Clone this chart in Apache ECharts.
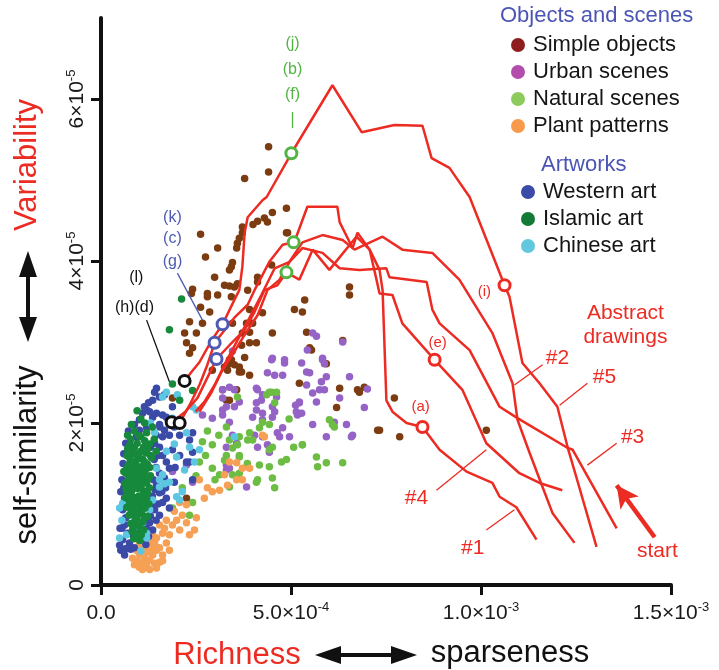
<!DOCTYPE html>
<html>
<head>
<meta charset="utf-8">
<script src="https://cdn.jsdelivr.net/npm/echarts@6/dist/echarts.min.js"></script>
<style>html,body{margin:0;padding:0;background:#fff}#c{width:719px;height:670px}</style>
</head>
<body>
<div id="c"></div>
<script>
// Values in display units: x in 1e-4, y in 1e-5
const X_TICKS = [[0, '0.0', ''], [5, '5.0×10', '-4'], [10, '1.0×10', '-3'], [15, '1.5×10', '-3']];
const Y_TICKS = [[0, '0', ''], [2, '2×10', '-5'], [4, '4×10', '-5'], [6, '6×10', '-5']];

const legendObjects = ['Simple objects', 'Urban scenes', 'Natural scenes', 'Plant patterns'];
const legendArtworks = ['Western art', 'Islamic art', 'Chinese art'];

const simpleObjects = [[4.41,5.41],[4.41,5.10],[3.78,5.02],[4.88,4.65],[4.51,4.60],[4.30,4.53],[4.12,4.49],[4.38,4.48],[3.72,4.42],[3.72,4.35],[3.64,4.28],[3.59,4.22],[3.57,4.16],[2.62,4.33],[3.07,4.16],[3.46,3.98],[3.43,3.93],[3.38,3.89],[2.99,3.80],[3.25,3.70],[3.38,3.69],[3.51,3.68],[3.59,3.72],[3.86,3.64],[4.49,3.95],[4.88,4.35],[2.80,3.60],[2.41,3.65],[2.38,3.60],[4.12,3.80],[4.12,3.74],
[2.80,3.56],[3.07,3.58],[3.43,3.56],[2.62,3.43],[2.86,3.37],[2.33,3.25],[2.67,3.23],[2.51,3.11],[2.20,3.11],[2.25,2.99],[2.41,2.93],[2.33,2.86],[3.25,2.69],[3.33,2.65],[3.38,2.78],[3.64,2.69],[3.78,2.81],[3.91,2.99],[3.72,3.11],[3.46,3.23],[3.83,3.23],[3.91,3.40],[4.25,3.36],[4.51,3.11],[3.57,2.41],[3.20,2.41],[3.38,2.28],[3.64,2.63],[2.93,2.65],[1.88,2.31],
[3.99,3.23],[3.91,3.12],[4.09,2.99],[3.70,2.96],[5.36,3.52],[5.30,3.37],[5.09,3.40],[5.41,3.12],[6.36,3.02],[5.54,2.90],[6.54,3.58],[5.93,2.73],[3.43,2.78],[3.51,2.72],[3.33,2.72],[3.70,2.63],[3.91,2.59],[5.22,2.49],[6.75,2.41],[7.72,2.31],[6.20,2.19],[7.28,1.91],[7.86,1.83],[3.30,2.28],
[2.25,1.07],[6.28,2.43],[6.80,2.38],[5.49,2.93],[10.14,1.91],[7.33,1.91],[6.93,2.44],[6.54,3.68],[4.91,4.35],[2.75,4.05],[4.00,4.45]];

const urbanScenes = [[5.67,3.07],[5.43,2.90],[3.46,2.89],[4.49,2.78],[4.83,2.78],[4.83,2.74],[5.28,2.74],[5.83,2.78],[5.88,2.73],[4.38,2.62],[4.57,2.59],[5.49,2.62],[5.93,2.57],[5.80,2.51],[5.41,2.47],[6.54,2.57],[7.01,2.42],[5.75,2.41],[5.88,2.41],[5.57,2.37],[5.67,2.26],[5.22,2.25],[5.12,2.22],[5.28,2.12],[5.17,2.10],[4.51,2.20],[4.62,2.32],[4.25,2.35],[4.12,2.41],[4.22,2.28],[4.09,2.25],[4.09,2.16],[4.25,2.12],[4.51,2.07],[4.57,2.14],[3.99,2.07],[4.25,2.04],[4.78,1.94],[4.64,1.88],[4.70,1.83],[4.96,1.83],[4.25,1.83],[4.12,1.70],[4.43,1.64],[4.38,1.73],[3.57,1.75],[3.30,1.70],[3.20,2.41],[3.38,2.44],[3.51,2.41],[3.20,2.31],[3.30,2.20],[3.51,2.20],[3.64,2.26],[3.20,2.16],[3.20,2.10],[3.38,2.01],[6.93,2.19],[6.46,1.98],[6.14,2.01],[5.93,1.83],[6.59,1.83],[3.83,1.21],[3.30,1.42],[3.30,1.48],
[4.09,2.43],[4.51,2.80],[4.78,2.59],[5.41,2.63],[5.83,2.80],[5.22,2.26],[5.14,2.14],[4.04,1.85],[3.46,1.85],[2.93,2.06],[2.67,2.10],[2.25,1.48],[1.88,1.40],[2.41,1.27],[3.38,1.44],[6.62,1.85],[5.57,1.98],[6.28,2.31],[6.36,3.00],[5.57,3.11]];

const naturalScenes = [[4.49,2.38],[4.57,2.25],[6.01,2.04],[6.14,1.95],[5.30,1.73],[5.67,1.58],[5.93,1.51],[6.36,1.51],[5.70,1.46],[4.75,1.52],[4.43,1.46],[4.17,1.48],[4.51,1.70],[4.43,1.67],[3.99,1.79],[3.86,1.79],[3.64,1.60],[4.17,1.94],[4.43,1.98],[3.30,1.95],[3.38,1.79],[3.25,1.54],[3.64,1.58],[4.12,1.30],[3.64,1.38],[3.38,1.21],[4.57,1.20],
[5.30,1.73],[6.09,1.98],[4.51,1.32],[4.09,1.27],[3.46,1.69],[3.59,1.73],[2.93,1.73],[2.67,1.77],[2.59,1.52],[2.41,1.02],[1.88,0.95],[2.14,1.20],[2.33,0.86],[2.93,1.44],[3.30,1.60],[3.12,1.36],[3.46,1.36],[4.25,2.01],[4.62,2.38],[4.36,2.35],[3.64,1.83],[3.91,1.88],[3.59,2.32],[4.43,2.38],[5.07,1.70],[4.88,1.55],[2.80,1.90],[3.00,1.30],[2.75,1.60],[3.85,1.50],[2.50,1.35],[3.10,1.85],[4.95,2.05]];

const plantPatterns = [[0.88,0.25],[0.95,0.30],[1.01,0.22],[1.09,0.28],[1.14,0.33],[1.20,0.25],[1.28,0.31],[1.36,0.37],[1.41,0.27],[1.46,0.43],[1.28,0.43],[1.20,0.40],[1.09,0.46],[1.01,0.38],[0.93,0.43],[1.14,0.52],[1.28,0.55],[1.36,0.49],[1.46,0.58],[1.54,0.46],[1.62,0.37],[1.54,0.28],[1.72,0.52],[1.80,0.62],[1.62,0.64],[1.36,0.62],[1.20,0.59],[1.01,0.52],[1.88,0.74],[2.07,0.68],[1.99,0.80],[1.72,0.80],[1.54,0.74],[2.14,0.86],[2.25,0.77],[2.33,0.62],[2.46,0.68],[2.59,1.30],[2.93,1.15],[2.72,1.07],[3.38,1.52],[3.72,1.44],[3.57,1.30],[3.12,1.17],[4.25,1.85],[2.25,0.99],[2.07,1.02],[1.93,0.91],[1.67,0.70],[1.80,0.43],[1.09,0.19],[1.28,0.19],[0.83,0.33],[1.46,0.21],[1.62,0.30],[1.14,0.43],[1.41,0.52],[2.51,0.83],[2.80,1.20],[3.25,1.36],[4.30,1.83],[3.57,1.51],[3.91,1.44],[3.72,1.30],[3.33,1.23]];

const westernArt = [[1.46,2.43],[1.41,2.38],[1.67,2.35],[1.54,2.32],[1.36,2.28],[1.09,2.12],[1.20,2.16],[1.28,2.14],[1.46,2.12],[1.62,2.10],[1.72,2.07],[1.01,2.04],[1.36,2.07],[1.80,2.01],[1.14,2.20],
[0.88,1.98],[1.01,1.91],[1.20,1.94],[1.54,1.98],[1.67,1.91],[1.80,1.85],[1.93,1.95],[0.93,1.83],[1.62,1.83],[2.41,1.88],[2.33,1.79],
[0.75,1.75],[0.83,1.64],[0.88,1.52],[1.41,1.75],[1.54,1.70],[1.62,1.60],[1.72,1.52],[1.80,1.44],[1.54,1.38],[1.67,1.32],[0.70,1.46],[0.80,1.36],[1.88,1.67],[2.33,1.52],[2.07,1.60],[2.41,1.30],[1.93,1.27],
[0.67,1.27],[0.75,1.17],[0.62,1.07],[0.70,0.99],[0.80,0.90],[1.46,1.23],[1.54,1.14],[1.62,1.02],[1.41,0.93],[1.54,0.86],[1.72,1.07],[1.80,0.95],[0.57,0.93],[0.65,0.83],
[0.62,0.74],[0.70,0.64],[0.57,0.56],[0.49,0.49],[0.75,0.52],[0.83,0.62],[1.20,0.70],[1.28,0.77],[1.36,0.68],[0.62,0.37],[0.52,0.43],[0.88,0.46],[1.09,0.58],[1.01,0.70],
[1.88,2.20],[2.07,1.85],[1.62,1.32],[2.25,1.52],[2.41,1.64],[1.40,1.55],[1.45,1.85],[1.35,1.10],[1.45,0.80],[0.60,1.20],[0.55,0.70],[1.70,1.20],[1.30,1.70],[1.95,1.45],
[0.58,1.50],[0.60,1.62],[0.65,1.75],[0.72,1.90],[1.45,1.45],[1.50,1.60],[1.38,1.30],[1.42,1.18],[1.35,0.98],[1.30,0.85],[1.25,0.60],[0.55,1.30],[0.52,1.15],[0.50,0.70],[1.55,1.95],[1.25,2.25],[1.60,1.15],[1.50,1.00],[0.66,0.45],[0.78,0.44],[1.18,0.50]];

const islamicArt = [[0.70,1.85],[0.88,1.90],[1.05,1.83],[1.20,1.88],[0.75,1.72],[0.95,1.75],[1.12,1.70],[1.28,1.74],[0.68,1.60],[0.85,1.62],[1.00,1.58],[1.18,1.63],[1.33,1.57],[0.72,1.48],[0.90,1.50],[1.05,1.46],[1.22,1.49],[0.65,1.38],[0.82,1.40],[0.98,1.36],[1.15,1.39],[1.30,1.35],[0.70,1.28],[0.88,1.25],[1.03,1.29],[1.20,1.26],[0.66,1.18],[0.80,1.15],[0.96,1.19],[1.12,1.16],[1.27,1.20],[0.72,1.06],[0.88,1.08],[1.04,1.04],[1.20,1.07],[0.68,0.96],[0.84,0.94],[1.00,0.98],[1.16,0.95],[0.74,0.86],[0.90,0.84],[1.06,0.88],[1.22,0.85],[0.78,0.76],[0.94,0.74],[1.10,0.78],[0.82,0.66],[0.98,0.64],[1.12,0.68],[0.86,0.57],[1.02,0.55],[0.93,1.62],[0.78,1.52],[1.10,1.55],[0.83,1.32],[1.10,1.32],[0.76,1.10],[1.14,1.12],[0.92,1.00],[1.08,0.92],[0.80,1.98],[1.05,2.05],[0.95,2.15],[1.15,2.00],[1.35,1.95],[1.40,1.80],[1.45,1.65],[0.60,1.40],[0.62,1.25],
[0.78,1.80],[0.98,1.85],[1.15,1.78],[0.70,1.68],[0.88,1.70],[1.05,1.65],[1.22,1.68],[0.76,1.56],[0.95,1.55],[1.15,1.52],[1.28,1.45],[0.68,1.44],[0.86,1.45],[1.00,1.42],[1.18,1.43],[0.74,1.33],[0.92,1.30],[1.08,1.34],[1.24,1.31],[0.72,1.22],[0.90,1.20],[1.06,1.23],[1.22,1.14],[0.70,1.12],[0.86,1.02],[1.00,1.10],[1.12,1.00],[0.76,1.00],[0.80,0.90],[0.96,0.90],[1.14,0.82],[0.88,0.78],[1.02,0.72],[0.84,0.70],[0.92,0.60],[1.06,0.62],[0.94,0.82],[1.26,1.00],[0.64,1.08],[1.30,1.60],
[2.12,3.53],[1.80,3.15],[1.88,2.48],[2.41,2.40],[2.07,2.28]];

const chineseArt = [[1.41,1.88],[2.33,1.70],[2.59,1.67],[1.54,1.30],[1.67,1.25],[1.99,1.09],[2.07,1.05],[1.28,0.93],[0.93,0.68],[1.20,0.64],[0.57,1.01],[1.72,2.38],[2.01,2.35],[2.41,2.20],[2.51,2.16],[1.62,2.32],[1.88,2.06],[1.46,1.44],[1.62,1.36],[1.80,1.27],[1.54,1.21],[2.14,1.15],[0.49,0.95],[0.49,0.58],[1.20,0.58],[3.51,1.83],[2.20,1.42],[1.99,1.58],[1.72,1.65],[0.67,0.62],[1.09,0.77],[1.36,1.05],[2.46,1.52],[2.25,1.88],[1.93,1.74],[1.30,2.00],[0.55,0.80],[1.05,0.42]];

// Abstract drawing trajectories (#1..#5)
const drawing1 = [[11.46,0.56],[10.93,0.96],[10.49,1.09],[10.30,1.26],[9.62,1.40],[8.91,1.67],[8.46,1.95],[8.04,2.00],[7.67,2.14],[7.51,2.28],[7.41,3.64],[7.33,3.89],[7.07,4.14],[6.75,4.35],[6.62,4.16],[6.28,4.48],[6.22,4.67],[5.43,4.67],[5.14,4.30],[5.07,4.23],[4.78,4.20],[4.43,3.99],[4.04,3.64],[3.86,3.46],[3.51,3.30],[2.99,2.99],[2.80,2.72],[2.59,2.47],[2.33,2.22],[2.07,2.00]];
const drawing2 = [[12.46,0.52],[11.88,0.89],[11.62,1.21],[11.28,1.63],[10.96,2.04],[10.83,2.49],[10.30,3.11],[9.43,3.77],[8.72,4.10],[7.93,4.14],[7.41,4.30],[6.67,4.14],[6.36,4.26],[5.83,4.32],[5.30,4.23],[4.96,3.99],[4.57,3.91],[4.22,3.58],[3.91,3.30],[3.59,3.02],[3.25,2.72],[2.99,2.47],[2.72,2.26],[2.49,2.14]];
const drawing3 = [[13.57,0.70],[12.41,1.67],[12.25,1.70],[10.96,2.06],[10.49,2.20],[9.70,2.90],[8.91,3.23],[8.72,3.40],[8.57,3.74],[7.59,3.80],[7.51,3.91],[6.80,3.89],[6.28,3.91],[5.83,4.10],[5.30,4.16],[4.96,3.99],[4.70,3.77],[4.38,3.64],[4.12,3.33],[3.78,3.09],[3.51,2.88],[3.17,2.63],[2.91,2.38],[2.59,2.14]];
const drawing4 = [[12.14,1.17],[11.54,1.26],[11.01,1.38],[10.14,1.75],[9.51,2.41],[8.78,2.78],[7.93,3.23],[7.67,3.58],[7.33,3.60],[7.25,3.77],[7.07,4.14],[6.72,4.30],[6.01,3.89],[5.57,4.14],[5.22,3.77],[4.88,3.86],[4.64,3.70],[4.30,3.64],[4.04,3.37],[3.78,3.15],[3.38,2.96],[3.04,2.79],[2.80,2.56],[2.54,2.31],[2.22,2.14],[1.86,2.01]];
const drawing5 = [[13.04,0.47],[12.51,1.33],[12.28,1.70],[12.01,2.20],[11.54,2.49],[11.09,2.74],[10.75,3.56],[10.62,3.70],[9.70,4.79],[9.17,5.15],[8.70,5.27],[8.46,5.67],[7.72,5.68],[6.86,5.59],[6.09,6.17],[5.01,5.33],[4.36,4.79],[4.25,4.75],[3.86,4.54],[3.78,4.35],[3.72,3.93],[3.64,3.64],[3.51,3.52],[3.20,3.22],[2.91,3.02],[2.59,2.75],[2.38,2.63],[2.20,2.52]];

// Marked frames on the trajectories
const markedRed = [[8.46,1.95],[8.78,2.78],[10.62,3.70]];        // (a),(e),(i)
const markedGreen = [[5.01,5.33],[5.07,4.23],[4.88,3.86]];       // (j),(b),(f)
const markedBlue = [[3.20,3.22],[2.99,2.99],[3.04,2.79]];        // (k),(c),(g)
const markedBlack = [[2.20,2.52],[1.86,2.01],[2.07,2.00]];       // (l),(h),(d)

const RED = '#ec2b23', GREEN_A = '#52b543', BLUE_A = '#4e5ab3', BLACK = '#111';
const FONT = "'Liberation Sans', Arial, sans-serif";

// annotation texts (anchor in data units)
const annotations = [
  ['(j)', [5.04,6.69], GREEN_A, 16], ['(b)', [5.04,6.36], GREEN_A, 16], ['(f)', [5.04,6.05], GREEN_A, 16],
  ['(k)', [1.88,4.54], BLUE_A, 16], ['(c)', [1.88,4.28], BLUE_A, 16], ['(g)', [1.88,3.99], BLUE_A, 16],
  ['(l)', [0.93,3.80], BLACK, 16], ['(h)(d)', [0.88,3.42], BLACK, 16],
  ['(a)', [8.41,2.20], RED, 15], ['(e)', [8.86,2.99], RED, 15], ['(i)', [10.09,3.62], RED, 15],
  ['#1', [9.78,0.46], RED, 21], ['#2', [12.01,2.80], RED, 21], ['#3', [13.99,1.83], RED, 21],
  ['#4', [8.30,1.07], RED, 21], ['#5', [13.25,2.57], RED, 21],
  ['Abstract\ndrawings', [13.80,3.21], RED, 21], ['start', [14.64,0.42], RED, 21]
];
const leaders = [
  [[5.04,5.84],[5.04,5.64], GREEN_A], [[2.01,3.85],[2.67,3.27], BLUE_A], [[1.20,3.27],[1.80,2.51], BLACK],
  [[10.14,0.68],[10.88,0.93], RED], [[8.83,1.17],[10.14,1.67], RED], [[11.62,2.72],[10.88,2.47], RED],
  [[12.80,2.49],[12.07,2.22], RED], [[13.57,1.75],[12.80,1.48], RED]
];
const startArrow = [[14.57,0.59],[13.57,1.23]];

function tickFmt(list) {
  return function (v) {
    const t = list.find(d => Math.abs(d[0] - v) < 1e-9);
    if (!t) return '';
    return t[2] ? '{n|' + t[1] + '}{s|' + t[2] + '}' : '{n|' + t[1] + '}';
  };
}
const richTick = { n: { fontSize: 21, color: '#1a1a1a', fontFamily: FONT, lineHeight: 24 },
                   s: { fontSize: 13, color: '#1a1a1a', fontFamily: FONT, verticalAlign: 'top', lineHeight: 14 } };

function scatter(name, data, color) {
  return { name, type: 'scatter', data, symbolSize: 7.5, itemStyle: { color, opacity: 1 }, z: 2, silent: true };
}
function drawing(name, data) {
  return { name, type: 'line', data, symbol: 'none', lineStyle: { color: RED, width: 2.5 }, z: 4, silent: true };
}
function marks(name, data, color) {
  return { name, type: 'scatter', data, symbol: 'circle', symbolSize: 11,
           itemStyle: { color: '#fff', borderColor: color, borderWidth: 3, opacity: 1 }, z: 6, silent: true };
}

const chart = echarts.init(document.getElementById('c'), null, { renderer: 'canvas' });
chart.setOption({
  animation: false,
  backgroundColor: '#fff',
  textStyle: { fontFamily: FONT },
  grid: { left: 101, right: 48, top: 18, bottom: 85 },
  xAxis: {
    type: 'value', min: 0, max: 15, interval: 5,
    axisLine: { lineStyle: { color: '#111', width: 4 } },
    axisTick: { show: true, length: 10, lineStyle: { color: '#111', width: 3 }, customValues: X_TICKS.map(d => d[0]) },
    axisLabel: { margin: 16, formatter: tickFmt(X_TICKS), rich: richTick, customValues: X_TICKS.map(d => d[0]) },
    splitLine: { show: false }
  },
  yAxis: {
    type: 'value', min: 0, max: 7, interval: 2,
    axisLine: { show: true, lineStyle: { color: '#111', width: 4 } },
    axisTick: { show: true, length: 10, lineStyle: { color: '#111', width: 3 }, customValues: Y_TICKS.map(d => d[0]) },
    axisLabel: { margin: 12, rotate: 90, formatter: tickFmt(Y_TICKS), rich: richTick, customValues: Y_TICKS.map(d => d[0]) },
    splitLine: { show: false }
  },
  legend: [
    { data: [
        { name: legendObjects[0], itemStyle: { color: '#8e1e1e' } },
        { name: legendObjects[1], itemStyle: { color: '#b34dab' } },
        { name: legendObjects[2], itemStyle: { color: '#8dcc5c' } },
        { name: legendObjects[3], itemStyle: { color: '#f79a4b' } }],
      left: 511, top: 34, padding: 0, orient: 'vertical', icon: 'circle', itemWidth: 20, itemHeight: 14, itemGap: 5,
      selectedMode: false, textStyle: { fontSize: 22, color: '#151515', lineHeight: 20, fontFamily: FONT } },
    { data: [
        { name: legendArtworks[0], itemStyle: { color: '#3d4ba8' } },
        { name: legendArtworks[1], itemStyle: { color: '#137a36' } },
        { name: legendArtworks[2], itemStyle: { color: '#62c8df' } }],
      left: 521, top: 181, padding: 0, orient: 'vertical', icon: 'circle', itemWidth: 20, itemHeight: 14, itemGap: 5,
      selectedMode: false, textStyle: { fontSize: 22, color: '#151515', lineHeight: 20, fontFamily: FONT } }
  ],
  graphic: [
    { type: 'text', left: 500, top: 5, style: { text: 'Objects and scenes', fontSize: 22, fill: '#4b55b5', fontFamily: FONT } },
    { type: 'text', left: 541, top: 154, style: { text: 'Artworks', fontSize: 22, fill: '#4b55b5', fontFamily: FONT } },
    { type: 'text', x: 27, y: 165, rotation: Math.PI / 2,
      style: { text: 'Variability', fontSize: 31, fill: RED, fontFamily: FONT, align: 'center', verticalAlign: 'middle' } },
    { type: 'text', x: 27, y: 455, rotation: Math.PI / 2,
      style: { text: 'self-similarity', fontSize: 31, fill: '#111', fontFamily: FONT, align: 'center', verticalAlign: 'middle' } },
    { type: 'line', shape: { x1: 28, y1: 272, x2: 28, y2: 322 }, style: { stroke: '#111', lineWidth: 4 } },
    { type: 'polygon', shape: { points: [[28, 251], [19, 277], [37, 277]] }, style: { fill: '#111' } },
    { type: 'polygon', shape: { points: [[28, 342], [19, 317], [37, 317]] }, style: { fill: '#111' } },
    { type: 'text', x: 237, y: 655,
      style: { text: 'Richness', fontSize: 31, fill: RED, fontFamily: FONT, align: 'center', verticalAlign: 'middle' } },
    { type: 'text', x: 510, y: 653,
      style: { text: 'sparseness', fontSize: 31, fill: '#111', fontFamily: FONT, align: 'center', verticalAlign: 'middle' } },
    { type: 'line', shape: { x1: 335, y1: 655, x2: 397, y2: 655 }, style: { stroke: '#111', lineWidth: 4 } },
    { type: 'polygon', shape: { points: [[315, 655], [341, 646], [341, 664]] }, style: { fill: '#111' } },
    { type: 'polygon', shape: { points: [[417, 655], [391, 646], [391, 664]] }, style: { fill: '#111' } }
  ],
  series: [
    scatter('Simple objects', simpleObjects, '#7c3c12'),
    scatter('Urban scenes', urbanScenes, '#9563c6'),
    scatter('Natural scenes', naturalScenes, '#6dbd45'),
    scatter('Plant patterns', plantPatterns, '#f6a055'),
    scatter('Western art', westernArt, '#3c4aa7'),
    scatter('Chinese art', chineseArt, '#5dc7e2'),
    scatter('Islamic art', islamicArt, '#17893c'),
    drawing('#1', drawing1), drawing('#2', drawing2), drawing('#3', drawing3),
    drawing('#4', drawing4), drawing('#5', drawing5),
    marks('red marks', markedRed, RED),
    marks('green marks', markedGreen, GREEN_A),
    marks('blue marks', markedBlue, BLUE_A),
    marks('black marks', markedBlack, BLACK),
    {
      name: 'annotations', type: 'scatter', symbolSize: 0, z: 7, silent: true,
      itemStyle: { opacity: 1 },
      data: annotations.map(a => ({ value: a[1], name: a[0],
        label: { show: true, position: 'inside', formatter: '{b}', color: a[2], fontSize: a[3], opacity: 1,
                 fontFamily: FONT, lineHeight: a[3] + 3 } })),
      markLine: {
        silent: true, symbol: 'none', label: { show: false }, animation: false,
        data: leaders.map(l => [{ coord: l[0], lineStyle: { color: l[2], width: 1.3, type: 'solid', opacity: 1 } }, { coord: l[1] }])
          .concat([[{ coord: startArrow[0], symbol: 'none', lineStyle: { color: RED, width: 4.5, type: 'solid', opacity: 1 } },
                    { coord: startArrow[1], symbol: 'arrow', symbolSize: [17, 22] }]])
      }
    }
  ]
});
</script>
</body>
</html>
